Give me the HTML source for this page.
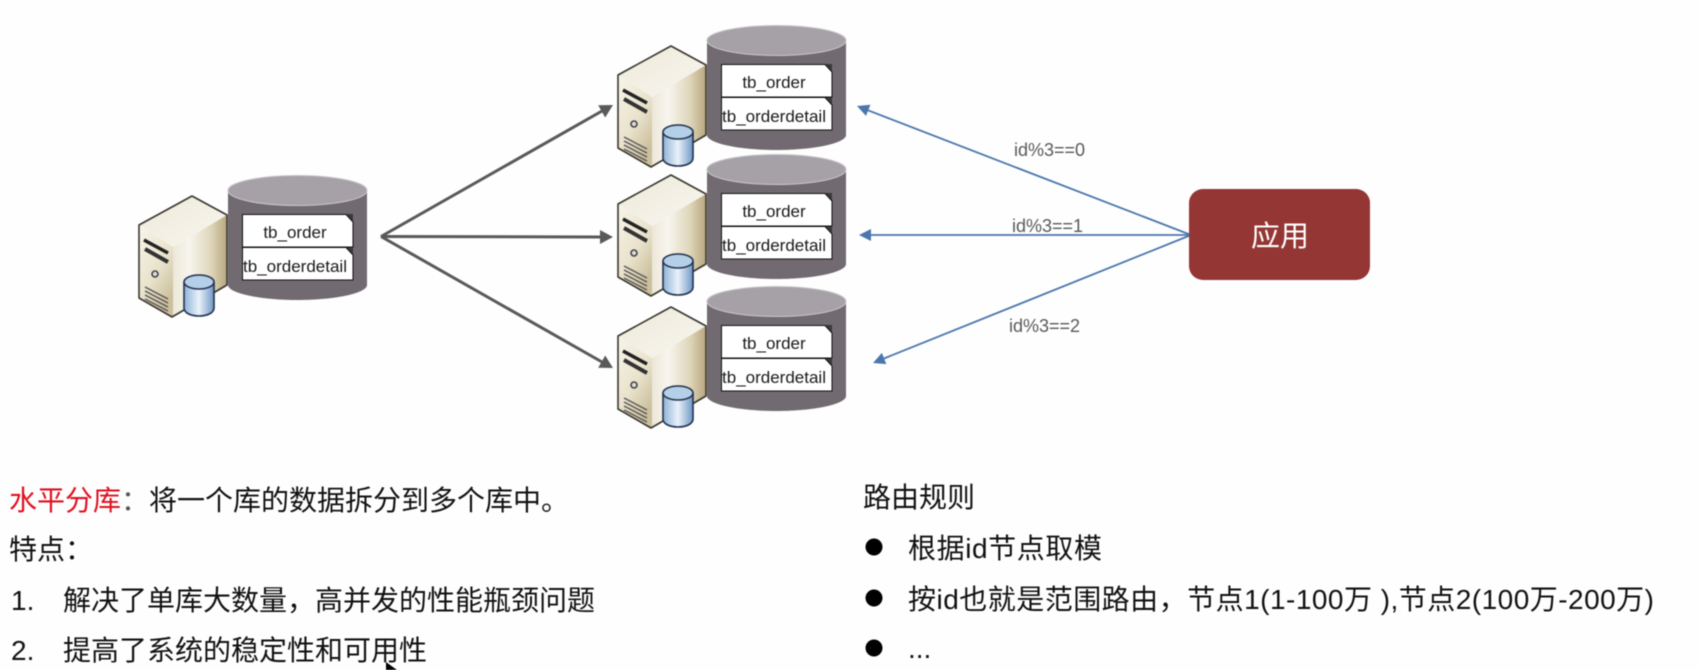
<!DOCTYPE html>
<html>
<head>
<meta charset="utf-8">
<style>
html,body{margin:0;padding:0;background:#fefefe;width:1698px;height:670px;overflow:hidden}
svg{display:block;filter:blur(.4px)}
.cn{font-family:"Liberation Sans","Noto Sans CJK SC",sans-serif;font-size:28px;fill:#111}
.tb{font-family:"Liberation Sans",sans-serif;font-size:17px;fill:#1a1a1a;text-anchor:middle}
.id{font-family:"Liberation Sans",sans-serif;font-size:18px;fill:#595959}
</style>
</head>
<body>
<svg width="1698" height="670" viewBox="0 0 1698 670" xmlns="http://www.w3.org/2000/svg">
<defs>
<linearGradient id="rf" x1="0" y1="0" x2="1" y2="0">
<stop offset="0" stop-color="#ece7d8"/><stop offset=".3" stop-color="#f7f5ee"/><stop offset=".7" stop-color="#dfd6ba"/><stop offset="1" stop-color="#b8a67e"/>
</linearGradient>
<linearGradient id="lf" x1="0" y1="0" x2=".6" y2="1">
<stop offset="0" stop-color="#f8f5ea"/><stop offset=".6" stop-color="#e9e2cc"/><stop offset="1" stop-color="#cbbf9c"/>
</linearGradient>
<linearGradient id="tf" x1="0" y1="0" x2="1" y2="1">
<stop offset="0" stop-color="#eee9da"/><stop offset="1" stop-color="#f8f6ef"/>
</linearGradient>
<linearGradient id="bc" x1="0" y1="0" x2="1" y2="0">
<stop offset="0" stop-color="#8fb3d8"/><stop offset=".5" stop-color="#eaf2fa"/><stop offset="1" stop-color="#6f97c4"/>
</linearGradient>
<g id="unit">
<path d="M228 191V285C228 293 259 300 297.500 300C336 300 367 293 367 285V191Z" fill="#716a70"/>
<ellipse cx="297.500" cy="190.500" rx="69.500" ry="15" fill="#a5a1a6" stroke="#c9c6ca" stroke-width="1"/>
<polygon points="353,214 353,224 345,214" fill="#3c383c"/>
<polygon points="353,247 353,257 345,247" fill="#3c383c"/>
<polygon points="242.500,214.500 346,214.500 353,222 353,247 242.500,247" fill="#fff" stroke="#111" stroke-width="1"/>
<polygon points="242.500,247.500 346,247.500 353,255 353,280 242.500,280" fill="#fff" stroke="#111" stroke-width="1"/>
<polygon points="192,196 139,225 173,247 227,215" fill="url(#tf)"/>
<polygon points="173,247 227,215 227,285 173,317" fill="url(#rf)"/>
<polygon points="139,225 173,247 173,317 139,298" fill="url(#lf)"/>
<polygon points="192,196 139,225 139,298 172,317 227,285 227,215" fill="none" stroke="#39382f" stroke-width="1.600" stroke-linejoin="round"/>
<path d="M144 240L168 253" stroke="#222" stroke-width="3.500" fill="none"/>
<path d="M145 249L168 262" stroke="#333" stroke-width="4" fill="none"/>
<circle cx="155" cy="274" r="3" fill="#ddd" stroke="#444" stroke-width="1.600"/>
<path d="M145 287L168 299M145 291L168 303M145 295L168 307M145 299L168 311" stroke="#555" stroke-width="1.300" fill="none"/>
<path d="M184 283V308C184 313 191 316 199 316C207 316 214 313 214 308V283Z" fill="url(#bc)" stroke="#22314e" stroke-width="1.600"/>
<ellipse cx="199" cy="282" rx="15" ry="7" fill="#b4cfe8" stroke="#22314e" stroke-width="1.600"/>
</g>
</defs>

<use href="#unit"/>
<text class="tb" x="295" y="238">tb_order</text>
<text class="tb" x="295" y="272">tb_orderdetail</text>

<use href="#unit" transform="translate(479,-150)"/>
<text class="tb" x="774" y="88">tb_order</text>
<text class="tb" x="774" y="122">tb_orderdetail</text>

<use href="#unit" transform="translate(479,-21)"/>
<text class="tb" x="774" y="217">tb_order</text>
<text class="tb" x="774" y="251">tb_orderdetail</text>

<use href="#unit" transform="translate(479,111)"/>
<text class="tb" x="774" y="349">tb_order</text>
<text class="tb" x="774" y="383">tb_orderdetail</text>

<g stroke="#595959" stroke-width="3" fill="none">
<line x1="381" y1="236.500" x2="602" y2="111"/>
<line x1="381" y1="236.500" x2="600" y2="237"/>
<line x1="381" y1="236.500" x2="602" y2="362"/>
</g>
<g fill="#595959">
<polygon points="613,105 605.200,117.500 598.200,105.300"/>
<polygon points="613,237 600,230 600,244"/>
<polygon points="613,368 598.200,367.700 605.200,355.500"/>
</g>

<g stroke="#4a76ad" stroke-width="1.800" fill="none">
<line x1="1191" y1="235" x2="868" y2="110.300"/>
<line x1="1191" y1="235" x2="871" y2="235"/>
<line x1="1191" y1="235" x2="884" y2="358.500"/>
</g>
<g fill="#4a76ad">
<polygon points="857,106 870.400,104.700 866,115.900"/>
<polygon points="859,235 871,229 871,241"/>
<polygon points="873,363 886.300,364.100 881.900,352.900"/>
</g>

<text class="id" x="1014" y="156">id%3==0</text>
<text class="id" x="1012" y="232">id%3==1</text>
<text class="id" x="1009" y="332">id%3==2</text>

<rect x="1189" y="189" width="181" height="91" rx="14" ry="14" fill="#943634"/>
<text x="1280" y="246" text-anchor="middle" style="font-family:'Liberation Sans','Noto Sans CJK SC',sans-serif;font-size:29px;fill:#fff">应用</text>

<text class="cn" x="9" y="510"><tspan fill="#e01020">水平分库</tspan><tspan fill="#555">：</tspan>将一个库的数据拆分到多个库中。</text>
<text class="cn" x="9" y="559">特点：</text>
<text class="cn" x="11" y="610">1.</text>
<text class="cn" x="63" y="610">解决了单库大数量，高并发的性能瓶颈问题</text>
<text class="cn" x="11" y="660">2.</text>
<text class="cn" x="63" y="660">提高了系统的稳定性和可用性</text>

<text class="cn" x="863" y="507">路由规则</text>
<circle cx="874" cy="547" r="8.500" fill="#000"/>
<text class="cn" x="908" y="558" textLength="194" lengthAdjust="spacing">根据id节点取模</text>
<circle cx="874" cy="598" r="8.500" fill="#000"/>
<text class="cn" x="908" y="609" textLength="746" lengthAdjust="spacing">按id也就是范围路由，节点1(1-100万 ),节点2(100万-200万)</text>
<circle cx="874" cy="648" r="8.500" fill="#000"/>
<text class="cn" x="908" y="658">...</text>

<polygon points="386,662 397,670 386,670" fill="#000"/>
</svg>
</body>
</html>
